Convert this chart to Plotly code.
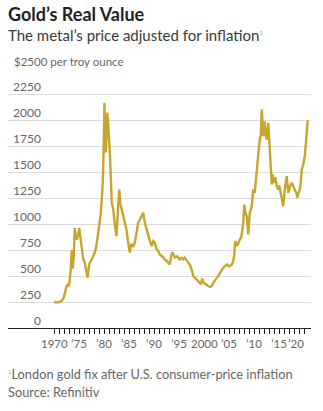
import plotly.graph_objects as go

years = [1970.0, 1970.5, 1971.0, 1971.5, 1971.9, 1972.1, 1972.3, 1972.6, 1972.9, 1973.1, 1973.3, 1973.5, 1973.7,
         1973.9, 1974.1, 1974.3, 1974.5, 1974.8, 1975.0, 1975.2, 1975.5, 1975.8, 1976.1, 1976.4, 1976.65, 1976.9,
         1977.1, 1977.4, 1977.7, 1978.1, 1978.4, 1978.8, 1979.1, 1979.3, 1979.5, 1979.7, 1979.85, 1980.05, 1980.15,
         1980.3, 1980.45, 1980.6, 1980.8, 1981.0, 1981.2, 1981.5, 1981.8, 1982.1, 1982.45, 1982.7, 1983.0, 1983.2,
         1983.5, 1983.8, 1984.1, 1984.4, 1984.8, 1985.1, 1985.3, 1985.5, 1985.8, 1986.1, 1986.4, 1986.8, 1987.1,
         1987.5, 1987.8, 1988.1, 1988.4, 1988.8, 1989.1, 1989.5, 1989.8, 1990.1, 1990.5, 1990.8, 1991.1, 1991.6,
         1992.1, 1992.6, 1993.1, 1993.35, 1993.6, 1993.9, 1994.1, 1994.6, 1995.0, 1995.4, 1995.8, 1996.1, 1996.5,
         1996.8, 1997.1, 1997.5, 1997.8, 1998.2, 1998.5, 1998.8, 1999.1, 1999.4, 1999.6, 1999.8, 2000.1, 2000.5,
         2000.8, 2001.3, 2001.6, 2001.8, 2002.1, 2002.5, 2002.8, 2003.1, 2003.4, 2003.8, 2004.1, 2004.5, 2004.8,
         2005.1, 2005.5, 2005.8, 2006.0, 2006.2, 2006.5, 2006.8, 2007.1, 2007.4, 2007.8, 2008.0, 2008.2, 2008.5,
         2008.8, 2009.1, 2009.5, 2009.8, 2010.1, 2010.3, 2010.5, 2010.8, 2011.1, 2011.3, 2011.5, 2011.65, 2011.8,
         2012.0, 2012.1, 2012.3, 2012.5, 2012.8, 2013.0, 2013.1, 2013.3, 2013.5, 2013.65, 2013.8, 2014.0, 2014.2,
         2014.5, 2014.8, 2015.0, 2015.3, 2015.55, 2015.8, 2016.1, 2016.3, 2016.5, 2016.8, 2017.1, 2017.3, 2017.5,
         2017.8, 2018.1, 2018.4, 2018.6, 2018.8, 2019.1, 2019.3, 2019.5, 2019.8, 2020.1, 2020.3, 2020.5, 2020.7]
real_price = [250, 245, 252, 262, 290, 320, 370, 420, 400, 460, 560, 750, 570,
              680, 960, 880, 850, 900, 960, 880, 790, 660, 630, 560, 485, 580,
              630, 650, 680, 725, 780, 917, 1014, 1100, 1235, 1400, 1652, 2165, 1900,
              1688, 1850, 2070, 1950, 1812, 1600, 1205, 1140, 1000, 883, 1100, 1330, 1200,
              1140, 1080, 1014, 960, 820, 725, 790, 803, 780, 820, 900, 1014, 1040,
              1075, 1110, 1014, 960, 883, 840, 787, 835, 820, 755, 740, 707, 690,
              659, 640, 610, 680, 729, 700, 678, 690, 659, 675, 660, 675, 650,
              630, 610, 560, 498, 480, 466, 450, 434, 420, 476, 445, 428, 415,
              402, 396, 410, 434, 450, 482, 500, 530, 550, 578, 590, 610, 600,
              594, 610, 642, 700, 835, 790, 810, 851, 870, 1011, 1187, 1120, 1075,
              899, 1107, 1171, 1332, 1300, 1428, 1556, 1668, 1812, 1850, 2101, 1900, 1844,
              1920, 1988, 1850, 1812, 1972, 1800, 1716, 1492, 1380, 1480, 1396, 1420, 1450,
              1363, 1332, 1370, 1300, 1230, 1171, 1332, 1400, 1460, 1300, 1363, 1380, 1396,
              1370, 1332, 1300, 1252, 1290, 1332, 1400, 1524, 1572, 1652, 1760, 1908, 1998]

tick_years = list(range(1970, 2021))
label_years = [1970, 1975, 1980, 1985, 1990, 1995, 2000, 2005, 2010, 2015, 2020]
label_texts = ["1970", "\u201975", "\u201980", "\u201985", "\u201990", "\u201995", "2000", "\u201905",
               "\u201910", "\u201915", "\u201920"]
y_ticks = [0, 250, 500, 750, 1000, 1250, 1500, 1750, 2000, 2250]
y_top = 2500

GOLD = "#c8a62c"
FONT = "Lato"
GRAY = "#666666"

fig = go.Figure()
fig.add_trace(go.Scatter(x=years, y=real_price, mode="lines",
                         line=dict(color=GOLD, width=2.4), hoverinfo="skip"))

fig.update_layout(
    width=323, height=411,
    margin=dict(l=8, r=12, t=68, b=82.5),
    paper_bgcolor="white", plot_bgcolor="white",
    showlegend=False,
    xaxis=dict(range=[1960.75, 2021.35], tickvals=tick_years, showticklabels=False,
               ticks="outside", ticklen=5, tickwidth=1, tickcolor="#222",
               showline=True, linecolor="#222", linewidth=1,
               showgrid=False, zeroline=False),
    yaxis=dict(range=[0, y_top], tickvals=y_ticks[1:] + [y_top], showticklabels=False,
               showgrid=True, gridcolor="#dcdcdc", gridwidth=1, zeroline=False, ticks=""),
)

for yr, txt in zip(label_years, label_texts):
    last = yr == label_years[-1]
    fig.add_annotation(x=yr, y=0, xref="x", yref="paper", text=txt, showarrow=False,
                       xanchor="right" if last else "center", yanchor="middle",
                       xshift=2 if last else 0, yshift=-15,
                       font=dict(family=FONT, size=11.5, color=GRAY))

for v in y_ticks:
    fig.add_annotation(x=1967.75, y=v, xref="x", yref="y", text=str(v), showarrow=False,
                       xanchor="right", yanchor="bottom", yshift=-2,
                       font=dict(family=FONT, size=12, color=GRAY))
fig.add_annotation(x=0.013, y=y_top, xref="paper", yref="y", text="$2500 per troy ounce", showarrow=False,
                   xanchor="left", yanchor="bottom", yshift=-2,
                   font=dict(family=FONT, size=11.5, color=GRAY))

fig.add_annotation(x=-0.007, y=(328.5 - 14) / 260.5, xref="paper", yref="paper",
                   text="<b>Gold\u2019s Real Value</b>", showarrow=False, xanchor="left", yanchor="middle",
                   font=dict(family=FONT, size=18, color="#222222"))
fig.add_annotation(x=-0.007, y=(328.5 - 35) / 260.5, xref="paper", yref="paper",
                   text="The metal\u2019s price adjusted for inflation<sup><span style='font-size:6px;color:#aaaaaa'>1</span></sup>",
                   showarrow=False, xanchor="left", yanchor="middle",
                   font=dict(family=FONT, size=15, color="#3a3a3a"))
fig.add_annotation(x=-0.007, y=(328.5 - 375) / 260.5, xref="paper", yref="paper",
                   text="<sup><span style='font-size:6px;color:#aaaaaa'>1</span></sup>London gold fix after U.S. consumer-price inflation",
                   showarrow=False, xanchor="left", yanchor="middle",
                   font=dict(family=FONT, size=12.8, color=GRAY))
fig.add_annotation(x=-0.007, y=(328.5 - 393) / 260.5, xref="paper", yref="paper",
                   text="Source: Refinitiv", showarrow=False, xanchor="left", yanchor="middle",
                   font=dict(family=FONT, size=12.8, color=GRAY))

fig.write_html("out.html")
